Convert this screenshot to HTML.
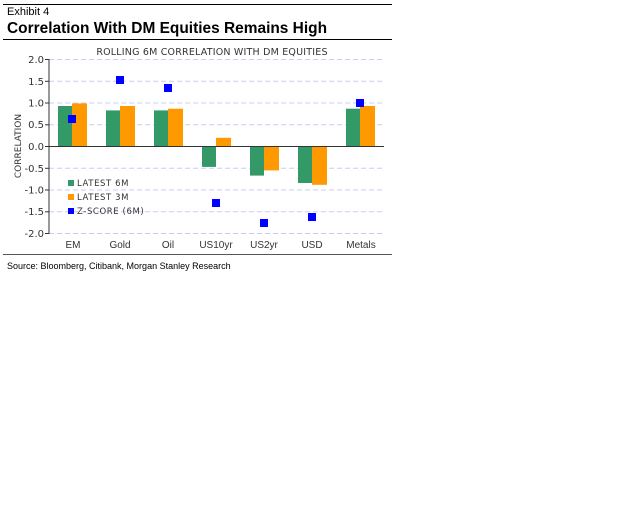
<!DOCTYPE html><html><head><style>body{margin:0;background:#fff;width:640px;height:511px;overflow:hidden}</style></head><body>
<svg width="640" height="511" xmlns="http://www.w3.org/2000/svg" font-family="Liberation Sans, sans-serif">
<line x1="3" y1="4.5" x2="392" y2="4.5" stroke="#000" stroke-width="1"/>
<text x="7" y="15" font-size="11">Exhibit 4</text>
<text x="7" y="33" font-size="16" font-weight="bold" textLength="320" lengthAdjust="spacingAndGlyphs">Correlation With DM Equities Remains High</text>
<line x1="3" y1="39.5" x2="392" y2="39.5" stroke="#000" stroke-width="1"/>
<text x="212" y="55" font-size="9.5" text-anchor="middle" fill="#333" font-family="DejaVu Sans, sans-serif" letter-spacing="0.2">ROLLING 6M CORRELATION WITH DM EQUITIES</text>
<g stroke="#ccccf5" stroke-dasharray="5,3">
<line x1="49" y1="59.5" x2="384" y2="59.5"/><line x1="49" y1="81.3" x2="384" y2="81.3"/><line x1="49" y1="103" x2="384" y2="103"/><line x1="49" y1="124.8" x2="384" y2="124.8"/><line x1="49" y1="168.3" x2="384" y2="168.3"/><line x1="49" y1="190" x2="384" y2="190"/><line x1="49" y1="211.8" x2="384" y2="211.8"/><line x1="49" y1="233.5" x2="384" y2="233.5"/>
</g>
<g font-size="10" fill="#333" text-anchor="end" font-family="DejaVu Sans, sans-serif">
<text x="44" y="63">2.0</text><text x="44" y="85">1.5</text><text x="44" y="106.5">1.0</text><text x="44" y="128">0.5</text><text x="44" y="150">0.0</text><text x="44" y="172">-0.5</text><text x="44" y="193.5">-1.0</text><text x="44" y="215">-1.5</text><text x="44" y="237">-2.0</text>
</g>
<text transform="translate(21,146) rotate(-90)" font-size="9" fill="#333" text-anchor="middle" font-family="DejaVu Sans, sans-serif">CORRELATION</text>
<g fill="#339966">
<rect x="58" y="106" width="14" height="40.5"/><rect x="106" y="110.4" width="14" height="36.1"/><rect x="154" y="110.4" width="14" height="36.1"/><rect x="202" y="146.5" width="14" height="20.4"/><rect x="250" y="146.5" width="14" height="29.1"/><rect x="298" y="146.5" width="14" height="36.5"/><rect x="346" y="108.7" width="14" height="37.8"/>
</g>
<g fill="#ff9900">
<rect x="72" y="103.4" width="15" height="43.1"/><rect x="120" y="106" width="15" height="40.5"/><rect x="168" y="108.7" width="15" height="37.8"/><rect x="216" y="137.8" width="15" height="8.7"/><rect x="264" y="146.5" width="15" height="23.9"/><rect x="312" y="146.5" width="15" height="38.3"/><rect x="360" y="106" width="15" height="40.5"/>
</g>
<g fill="#0000ff">
<rect x="68" y="115" width="8" height="8"/><rect x="116" y="76" width="8" height="8"/><rect x="164" y="84" width="8" height="8"/><rect x="212" y="199" width="8" height="8"/><rect x="260" y="219" width="8" height="8"/><rect x="308" y="213" width="8" height="8"/><rect x="356" y="99" width="8" height="8"/>
</g>
<line x1="49" y1="59" x2="49" y2="234" stroke="#333"/>
<line x1="49" y1="146.5" x2="384" y2="146.5" stroke="#333"/>
<g stroke="#333"><line x1="45" y1="59.5" x2="49" y2="59.5"/><line x1="45" y1="81.3" x2="49" y2="81.3"/><line x1="45" y1="103" x2="49" y2="103"/><line x1="45" y1="124.8" x2="49" y2="124.8"/><line x1="45" y1="146.5" x2="49" y2="146.5"/><line x1="45" y1="168.3" x2="49" y2="168.3"/><line x1="45" y1="190" x2="49" y2="190"/><line x1="45" y1="211.8" x2="49" y2="211.8"/><line x1="45" y1="233.5" x2="49" y2="233.5"/></g>
<g fill="#339966"><rect x="68" y="180" width="6" height="6"/></g>
<g fill="#ff9900"><rect x="68" y="194" width="6" height="6"/></g>
<g fill="#0000ff"><rect x="68" y="208" width="6" height="6"/></g>
<g font-size="8.5" fill="#333" font-family="DejaVu Sans, sans-serif" letter-spacing="0.6">
<text x="77" y="186">LATEST 6M</text><text x="77" y="200">LATEST 3M</text><text x="77" y="214">Z-SCORE (6M)</text>
</g>
<g font-size="10" fill="#333" text-anchor="middle">
<text x="73" y="248">EM</text><text x="120" y="248">Gold</text><text x="168" y="248">Oil</text><text x="216" y="248">US10yr</text><text x="264" y="248">US2yr</text><text x="312" y="248">USD</text><text x="361" y="248">Metals</text>
</g>
<line x1="3" y1="254.5" x2="392" y2="254.5" stroke="#555"/>
<text x="7" y="269" font-size="9">Source: Bloomberg, Citibank, Morgan Stanley Research</text>
</svg></body></html>
